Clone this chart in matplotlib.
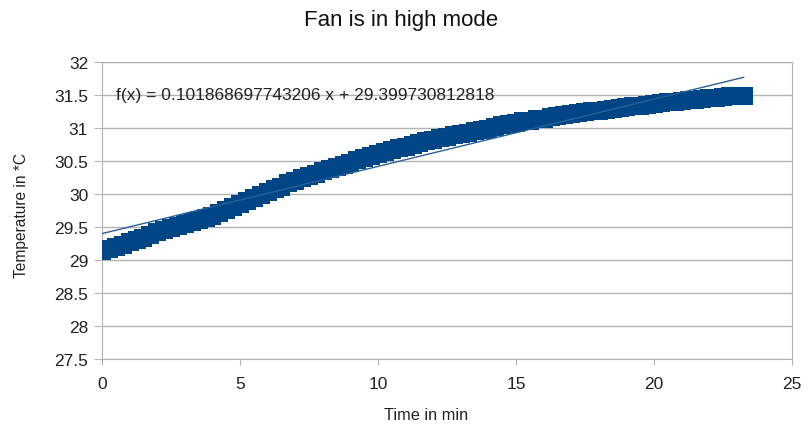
import matplotlib
matplotlib.use("Agg")
import matplotlib.pyplot as plt

plt.rcParams["font.family"] = ["Liberation Sans", "DejaVu Sans"]

# time in minutes and temperature readings
time_min = [
    0.0, 0.25, 0.5, 0.75, 1.0, 1.25, 1.5, 1.75, 2.0, 2.25, 2.5, 2.75,
    3.0, 3.25, 3.5, 3.75, 4.0, 4.25, 4.5, 4.75, 5.0, 5.25, 5.5, 5.75,
    6.0, 6.25, 6.5, 6.75, 7.0, 7.25, 7.5, 7.75, 8.0, 8.25, 8.5, 8.75,
    9.0, 9.25, 9.5, 9.75, 10.0, 10.25, 10.5, 10.75, 11.0, 11.25, 11.5, 11.75,
    12.0, 12.25, 12.5, 12.75, 13.0, 13.25, 13.5, 13.75, 14.0, 14.25, 14.5, 14.75,
    15.0, 15.25, 15.5, 15.75, 16.0, 16.25, 16.5, 16.75, 17.0, 17.25, 17.5, 17.75,
    18.0, 18.25, 18.5, 18.75, 19.0, 19.25, 19.5, 19.75, 20.0, 20.25, 20.5, 20.75,
    21.0, 21.25, 21.5, 21.75, 22.0, 22.25, 22.5, 22.75, 23.0, 23.25,
]
temp_c = [
    29.13, 29.16, 29.20, 29.23, 29.27, 29.30, 29.34, 29.38, 29.42, 29.45, 29.48, 29.51,
    29.54, 29.57, 29.60, 29.63, 29.67, 29.71, 29.76, 29.80, 29.85, 29.89, 29.94, 29.98,
    30.03, 30.07, 30.11, 30.16, 30.20, 30.24, 30.28, 30.31, 30.35, 30.38, 30.41, 30.44,
    30.47, 30.51, 30.54, 30.57, 30.60, 30.63, 30.66, 30.69, 30.71, 30.74, 30.77, 30.80,
    30.82, 30.85, 30.87, 30.89, 30.91, 30.93, 30.95, 30.97, 30.99, 31.02, 31.04, 31.06,
    31.08, 31.10, 31.11, 31.13, 31.14, 31.16, 31.18, 31.20, 31.21, 31.23, 31.24, 31.25,
    31.26, 31.28, 31.29, 31.31, 31.32, 31.33, 31.34, 31.35, 31.36, 31.38, 31.39, 31.40,
    31.41, 31.42, 31.43, 31.44, 31.45, 31.46, 31.47, 31.48, 31.49, 31.49,
]

# linear trend reported on the chart
slope = 0.101868697743206
intercept = 29.399730812818
trend_x = [time_min[0], time_min[-1]]

x_ticks = [0, 5, 10, 15, 20, 25]
y_ticks = [27.5, 28, 28.5, 29, 29.5, 30, 30.5, 31, 31.5, 32]

grid_col = "#b3b3b3"
text_col = "#222222"
dot_col = "#004586"

fig = plt.figure(figsize=(8.11, 4.27), dpi=100)
ax = fig.add_axes([0.1258, 0.1569, 0.8508, 0.6956])

# dense samples merge into one band; a thick line fills the seams between squares
ax.plot(time_min, temp_c, color=dot_col, linewidth=11, solid_capstyle="butt",
        zorder=2)
ax.plot(time_min, temp_c, linestyle="none", marker="s", markersize=12.5,
        markeredgewidth=0, color=dot_col, zorder=3)
ax.plot(trend_x, [slope * x + intercept for x in trend_x], color="#2a6099",
        linewidth=1.0, zorder=4)

ax.text(0.5, 31.5, f"f(x) = {slope:.15f} x + {intercept:.12f}", fontsize=12.5,
        ha="left", va="center", color=text_col, zorder=5)

ax.set_xlim(0, 25)
ax.set_ylim(27.5, 32)
ax.set_xticks(x_ticks)
ax.set_yticks(y_ticks)
ax.set_yticklabels([f"{v:g}" for v in y_ticks])
ax.grid(axis="y", color=grid_col, linewidth=1.0)
ax.set_axisbelow(True)
for side in ["left", "right", "top", "bottom"]:
    ax.spines[side].set_color(grid_col)
ax.tick_params(axis="both", colors=grid_col, labelcolor=text_col, labelsize=12.5,
               direction="out")
ax.tick_params(axis="y", length=6, pad=4)
ax.tick_params(axis="x", length=4, pad=8)

fig.text(0.494, 0.953, "Fan is in high mode", fontsize=16, ha="center",
         va="center", color="#111111")
fig.text(0.525, 0.028, "Time in min", fontsize=11.8, ha="center",
         va="center", color=text_col)
fig.text(0.027, 0.496, "Temperature in *C", fontsize=11.2, ha="center",
         va="center", rotation=90, color=text_col)

fig.savefig("out.png", dpi=100)
